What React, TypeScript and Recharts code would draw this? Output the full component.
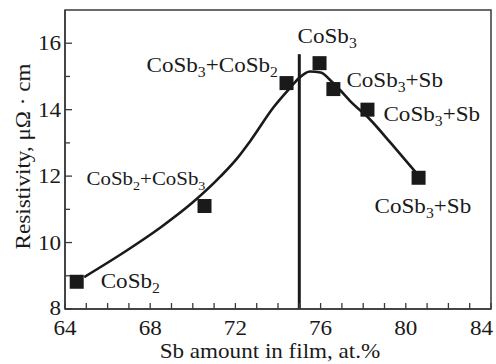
import React from 'react';
import { ComposedChart, XAxis, YAxis, Scatter, Line, ReferenceLine, ReferenceArea, Label } from 'recharts';

// Measured points
const sbAmount = [64.55, 70.55, 74.4, 75.95, 76.6, 78.2, 80.6];
const resistivity = [8.82, 11.1, 14.8, 15.4, 14.62, 14.0, 11.95];
const phases = ['CoSb2', 'CoSb2+CoSb3', 'CoSb3+CoSb2', 'CoSb3', 'CoSb3+Sb', 'CoSb3+Sb', 'CoSb3+Sb'];

// Guide curve
const curveX = [64.9, 66.9, 68.5, 70.0, 71.3, 72.1, 72.7, 73.8, 74.6, 75.0, 75.5, 76.0, 76.5, 76.9, 77.4, 78.3, 79.3, 80.5];
const curveY = [8.96, 9.76, 10.46, 11.21, 11.99, 12.55, 13.06, 14.08, 14.68, 14.96, 15.15, 15.12, 14.86, 14.6, 14.25, 13.72, 12.99, 12.09];

// Phase boundary line
const boundaryX = 75;
const boundaryTop = 15.67;

// Axes
const xTicks = [64, 65, 66, 67, 68, 69, 70, 71, 72, 73, 74, 75, 76, 77, 78, 79, 80, 81, 82, 83, 84];
const xLabelled = [64, 68, 72, 76, 80, 84];
const yTicks = [8, 9, 10, 11, 12, 13, 14, 15, 16];
const yLabelled = [8, 10, 12, 14, 16];
const xTitle = 'Sb amount in film, at.%';
const yTitle = 'Resistivity, μΩ · cm';

const points = sbAmount.map((x, i) => ({ x, y: resistivity[i], phase: phases[i], i }));
const curve = curveX.map((x, i) => ({ x, y: curveY[i] }));

// label placement (pixels from point centre) and font size
const labelStyle = [
  { dx: 24, dy: 6, size: 21 },
  { dx: -118, dy: -21, size: 19 },
  { dx: -140, dy: -11, size: 21 },
  { dx: -22, dy: -20, size: 21 },
  { dx: 13, dy: -2, size: 21 },
  { dx: 16, dy: 11, size: 21 },
  { dx: -44, dy: 35, size: 21 },
];

const FONT = "'Liberation Serif', 'Times New Roman', Times, serif";
const INK = '#1a1a1a';
const FRAME = '#3a3a3a';
const SX = 1.1; // glyphs in the source are slightly wide

function SText({ x, y, rotate = 0, anchor = 'start', size, children }: any) {
  return (
    <g transform={`translate(${x} ${y}) rotate(${rotate}) scale(${SX} 1)`}>
      <text x={0} y={0} textAnchor={anchor} fontFamily={FONT} style={{ fontFamily: FONT }} fontSize={size} fill={INK}>
        {children}
      </text>
    </g>
  );
}

function Formula({ x, y, text, size }: { x: number; y: number; text: string; size: number }) {
  const parts: { t: string; sub: boolean }[] = [];
  const re = /(\d)/g;
  let last = 0;
  let m: RegExpExecArray | null;
  while ((m = re.exec(text))) {
    if (m.index > last) parts.push({ t: text.slice(last, m.index), sub: false });
    parts.push({ t: m[1], sub: true });
    last = m.index + 1;
  }
  if (last < text.length) parts.push({ t: text.slice(last), sub: false });
  let shifted = false;
  const shift = size * 0.25;
  return (
    <SText x={x} y={y} size={size}>
      {parts.map((p, k) => {
        let dy = 0;
        if (p.sub && !shifted) { dy = shift; shifted = true; }
        else if (!p.sub && shifted) { dy = -shift; shifted = false; }
        return (
          <tspan key={k} dy={dy} fontSize={p.sub ? size * 0.68 : size}>{p.t}</tspan>
        );
      })}
    </SText>
  );
}

const SquareShape = (props: any) => {
  const { cx, cy, payload } = props;
  const s = 14;
  const st = labelStyle[payload.i];
  return (
    <g>
      <rect x={cx - s / 2} y={cy - s / 2} width={s} height={s} fill={INK} />
      <Formula x={cx + st.dx} y={cy + st.dy} text={payload.phase} size={st.size} />
    </g>
  );
};

const XTick = (props: any) => {
  const { x, y, payload } = props;
  const v = payload.value;
  const last = v === 84;
  return (
    <g>
      <line x1={x} x2={x} y1={y} y2={y - 6} stroke={FRAME} strokeWidth={1.3} />
      {xLabelled.includes(v) && (
        <SText x={last ? x + 2 : x} y={y + 26} anchor={last ? 'end' : 'middle'} size={21}>{v}</SText>
      )}
    </g>
  );
};

const YTick = (props: any) => {
  const { x, y, payload } = props;
  const v = payload.value;
  const major = yLabelled.includes(v);
  return (
    <g>
      <line x1={x} x2={x + (major ? 7 : 5)} y1={y} y2={y} stroke={FRAME} strokeWidth={1.3} />
      {major && (
        <SText x={x - 4} y={v === 8 ? y + 6 : y + 7} anchor="end" size={21}>{v}</SText>
      )}
    </g>
  );
};

export default function App() {
  return (
    <div style={{ position: 'absolute', left: 0, top: 0, background: '#fff' }}>
      <ComposedChart width={496} height={364} margin={{ top: 10, right: 5, bottom: 0, left: 0 }}>
        <XAxis
          dataKey="x"
          type="number"
          domain={[64, 84]}
          ticks={xTicks}
          interval={0}
          tickSize={0}
          tickMargin={0}
          tick={<XTick />}
          height={55}
          axisLine={{ stroke: FRAME, strokeWidth: 1.5 }}
          tickLine={false}
        >
          <Label
            content={(p: any) => {
              const vb = p.viewBox || { x: 65, y: 309, width: 426, height: 55 };
              return (
                <SText x={vb.x + vb.width / 2 - 8} y={vb.y + 49} anchor="middle" size={21}>
                  {xTitle}
                </SText>
              );
            }}
          />
        </XAxis>
        <YAxis
          dataKey="y"
          type="number"
          domain={[8, 17]}
          ticks={yTicks}
          interval={0}
          tickSize={0}
          tickMargin={0}
          tick={<YTick />}
          width={65}
          axisLine={{ stroke: FRAME, strokeWidth: 1.5 }}
          tickLine={false}
        >
          <Label
            content={(p: any) => {
              const vb = p.viewBox || { x: 0, y: 10, width: 65, height: 299 };
              return (
                <SText x={30} y={vb.y + vb.height / 2 - 3} rotate={-90} anchor="middle" size={21}>
                  {yTitle}
                </SText>
              );
            }}
          />
        </YAxis>
        <ReferenceArea x1={64} x2={84} y1={8} y2={17} fill="none" stroke={FRAME} strokeWidth={1.5} ifOverflow="visible" />
        <ReferenceLine
          segment={[{ x: boundaryX, y: boundaryTop }, { x: boundaryX, y: 8 }]}
          stroke={INK}
          strokeWidth={3}
          ifOverflow="visible"
        />
        <Line
          data={curve}
          dataKey="y"
          type="monotone"
          stroke={INK}
          strokeWidth={2.6}
          dot={false}
          activeDot={false}
          isAnimationActive={false}
        />
        <Scatter data={points} dataKey="y" shape={<SquareShape />} isAnimationActive={false} />
      </ComposedChart>
    </div>
  );
}
